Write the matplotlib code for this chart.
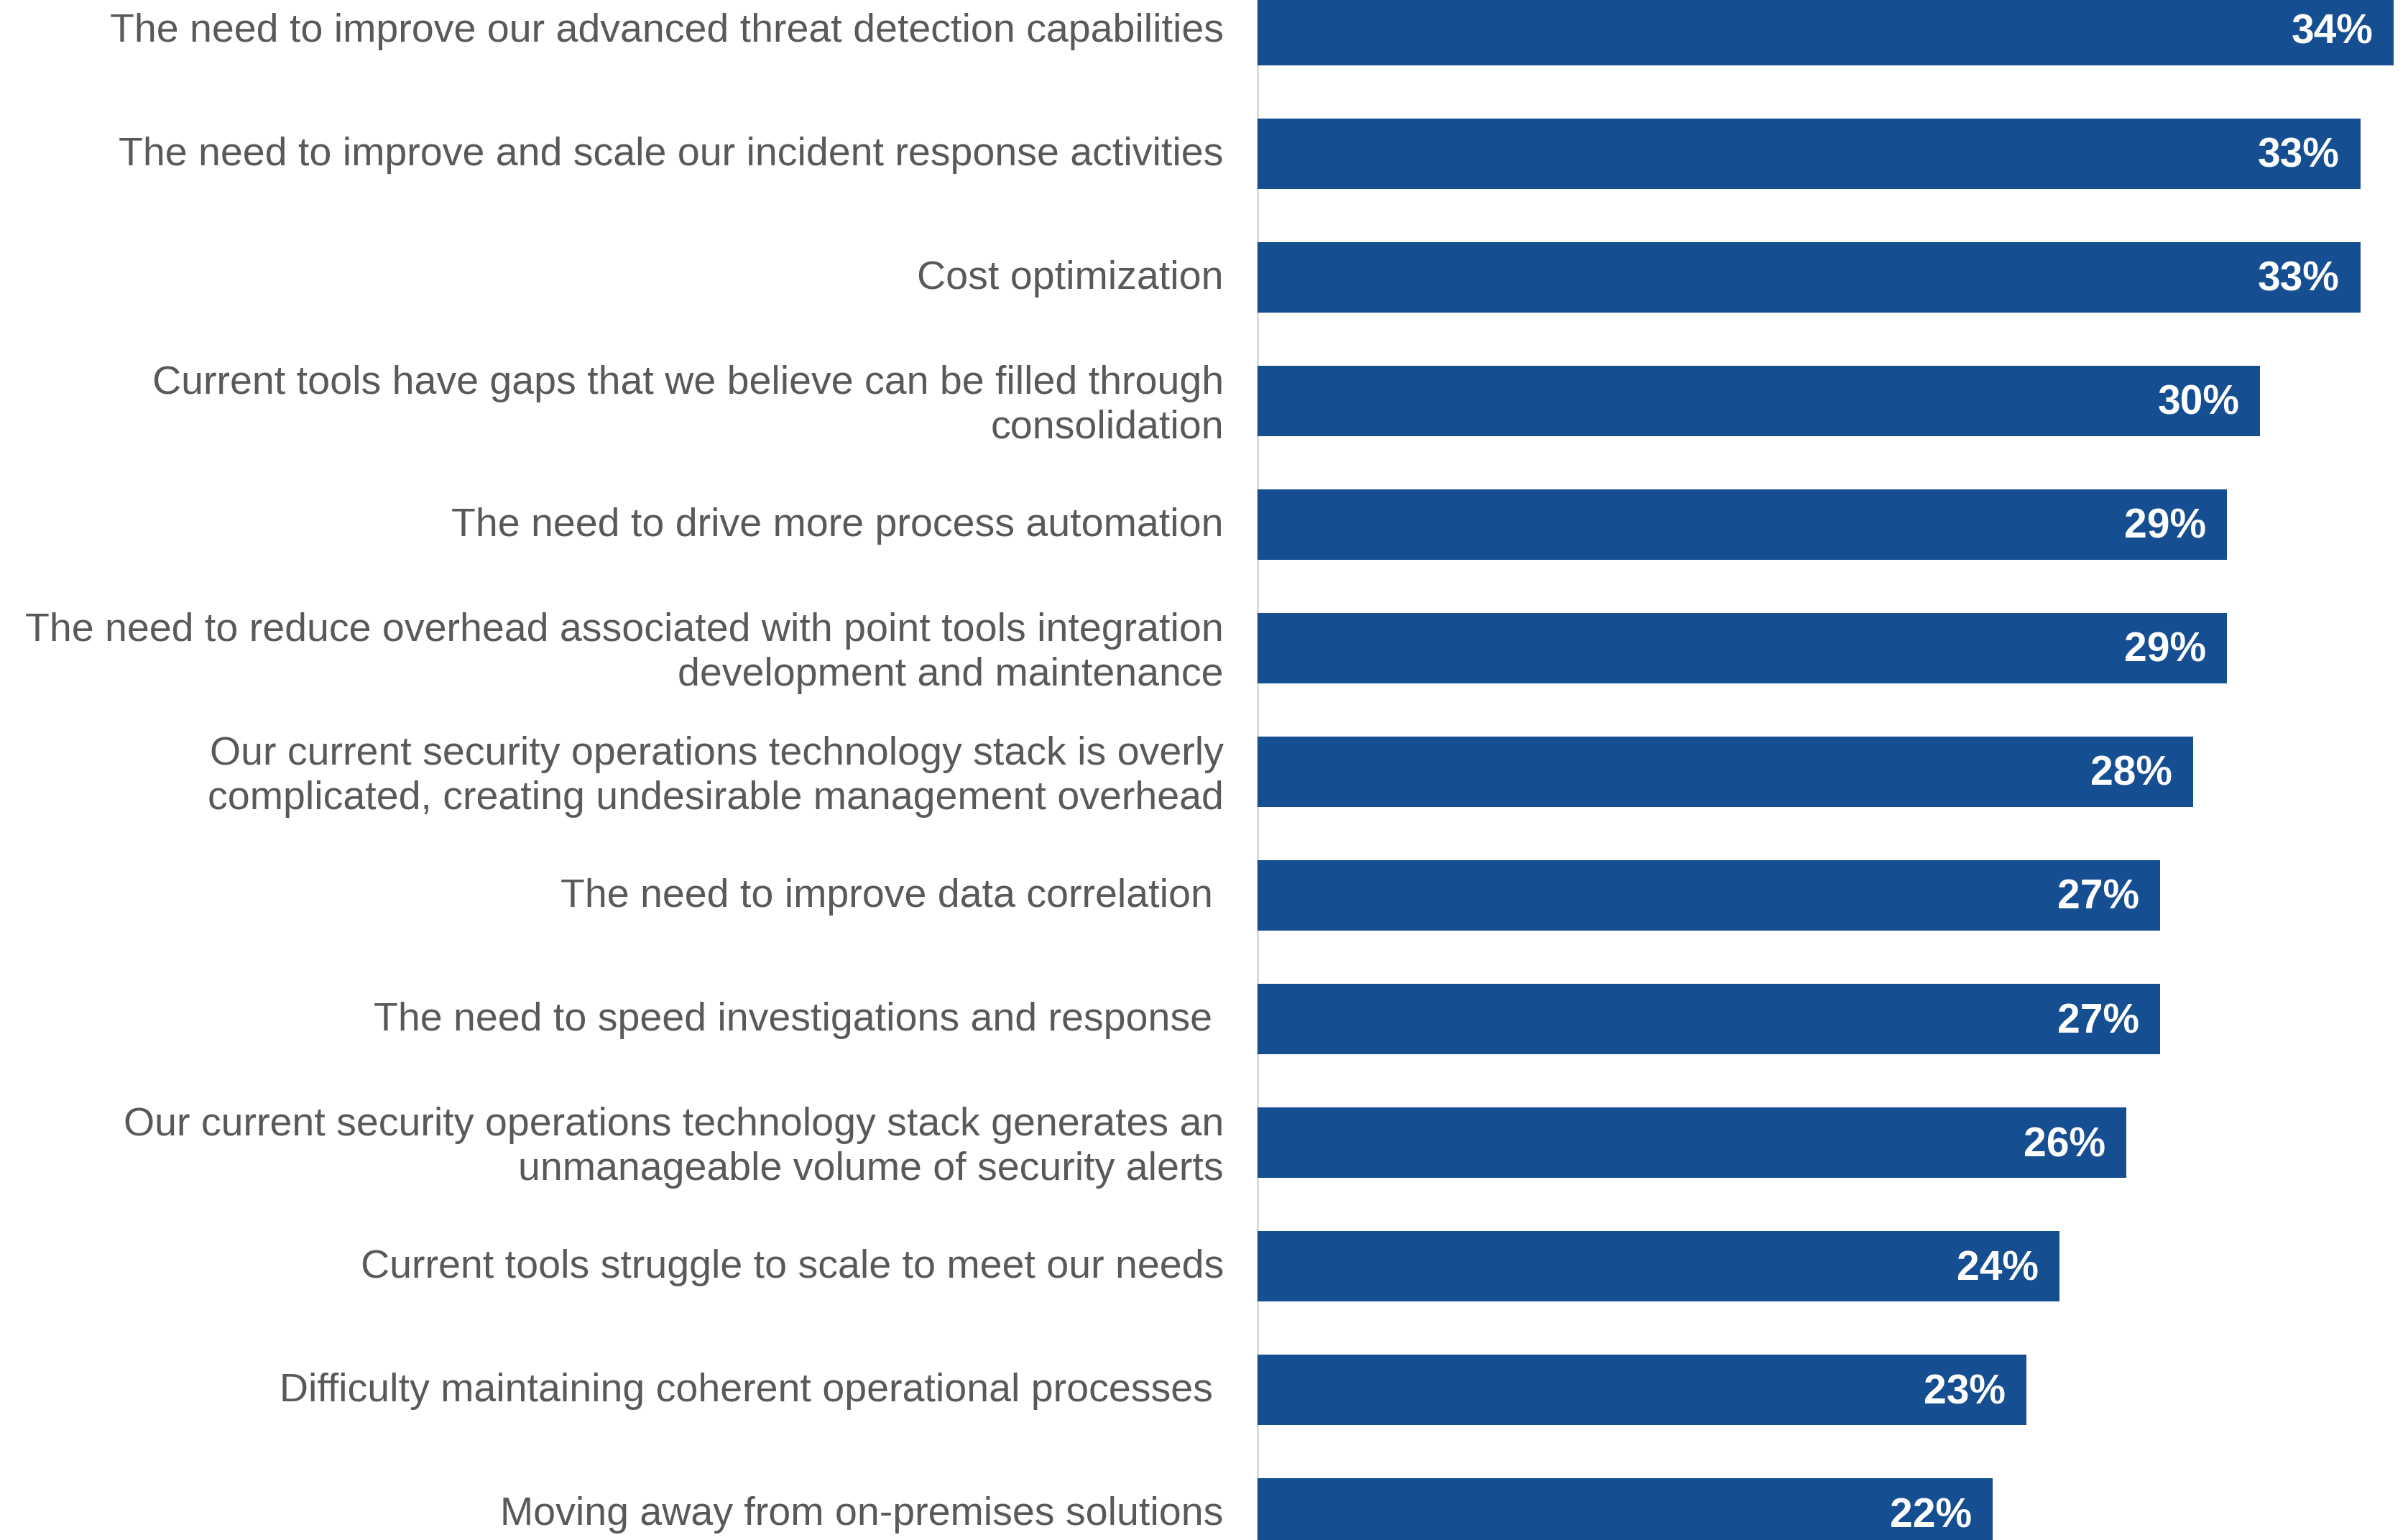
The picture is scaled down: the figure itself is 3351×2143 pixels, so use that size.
import matplotlib
matplotlib.use("Agg")
import matplotlib.pyplot as plt
from matplotlib.transforms import ScaledTranslation

categories = [
    "The need to improve our advanced threat detection capabilities",
    "The need to improve and scale our incident response activities",
    "Cost optimization",
    "Current tools have gaps that we believe can be filled through\nconsolidation",
    "The need to drive more process automation",
    "The need to reduce overhead associated with point tools integration\ndevelopment and maintenance",
    "Our current security operations technology stack is overly\ncomplicated, creating undesirable management overhead",
    "The need to improve data correlation ",
    "The need to speed investigations and response ",
    "Our current security operations technology stack generates an\nunmanageable volume of security alerts",
    "Current tools struggle to scale to meet our needs",
    "Difficulty maintaining coherent operational processes ",
    "Moving away from on-premises solutions",
]
values = [34, 33, 33, 30, 29, 29, 28, 27, 27, 26, 24, 23, 22]
value_labels = [f"{v}%" for v in values]

W, H, DPI = 3351, 2143, 100
fig = plt.figure(figsize=(W / DPI, H / DPI), dpi=DPI)
fig.patch.set_facecolor("white")
ax_left = 1750 / W
ax = fig.add_axes([ax_left, 0, 1 - ax_left, 1])

bar_color = "#154E91"
ypos = list(range(len(values)))
ax.barh(ypos, values, height=0.57, color=bar_color, zorder=2)

ax.set_xlim(0, 34.43)
ax.set_ylim(12.215, -0.244)

down = ScaledTranslation(0, -4 / DPI, fig.dpi_scale_trans)
for y, v, lab in zip(ypos, values, value_labels):
    ax.text(v - 0.62, y, lab, ha="right", va="center", color="white",
            fontsize=41, fontweight="bold", family="Liberation Sans", zorder=3,
            transform=ax.transData + down)

ax.set_yticks(ypos)
ax.set_yticklabels(categories, fontsize=40, color="#595959",
                   family="Liberation Sans", linespacing=1.25)
ax.tick_params(axis="y", length=0, pad=34)
ax.set_xticks([])
up = ScaledTranslation(0, 4 / DPI, fig.dpi_scale_trans)
for t in ax.get_yticklabels():
    t.set_transform(t.get_transform() + up)

for s in ["top", "right", "bottom"]:
    ax.spines[s].set_visible(False)
ax.spines["left"].set_color("#D9D9D9")
ax.spines["left"].set_linewidth(2)
ax.spines["left"].set_zorder(1)

fig.savefig("out.png", dpi=DPI, facecolor="white")
